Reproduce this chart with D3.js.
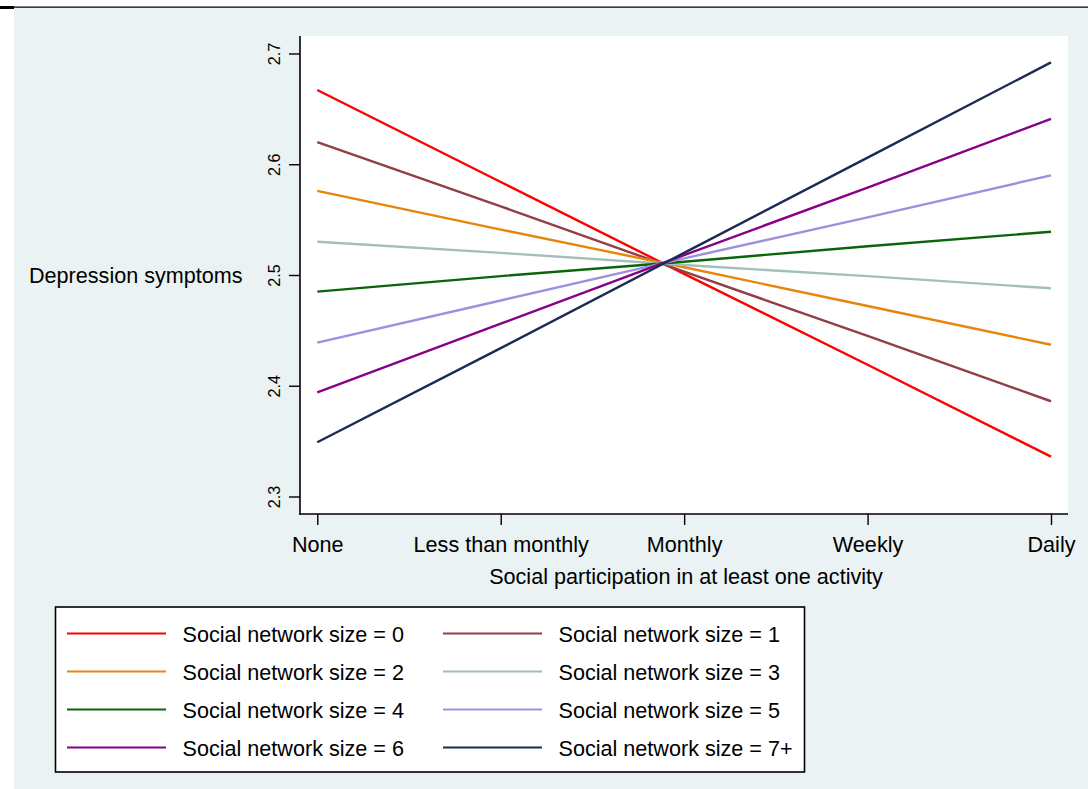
<!DOCTYPE html>
<html>
<head>
<meta charset="utf-8">
<script src="https://cdn.jsdelivr.net/npm/d3@7"></script>
<style>
  html, body { margin: 0; padding: 0; background: #ffffff; }
  svg { display: block; font-family: "Liberation Sans", Arial, sans-serif; }
</style>
</head>
<body>
<svg id="chart" width="1088" height="789"></svg>
<script>
// Predicted depression symptoms by frequency of social participation,
// one line per social network size.
const categories = ["None", "Less than monthly", "Monthly", "Weekly", "Daily"];
const seriesNames = [
  "Social network size = 0", "Social network size = 1",
  "Social network size = 2", "Social network size = 3",
  "Social network size = 4", "Social network size = 5",
  "Social network size = 6", "Social network size = 7+"
];
const size0  = [2.667, 2.584, 2.501, 2.419, 2.336];
const size1  = [2.620, 2.562, 2.503, 2.445, 2.386];
const size2  = [2.576, 2.541, 2.507, 2.472, 2.437];
const size3  = [2.530, 2.520, 2.509, 2.499, 2.488];
const size4  = [2.485, 2.499, 2.512, 2.526, 2.539];
const size5  = [2.439, 2.477, 2.515, 2.552, 2.590];
const size6  = [2.394, 2.456, 2.518, 2.579, 2.641];
const size7p = [2.349, 2.434, 2.520, 2.606, 2.692];
const seriesValues = [size0, size1, size2, size3, size4, size5, size6, size7p];
const seriesColors = ["#ff0000", "#933d45", "#e8850c", "#a3bfb8",
                      "#0a640a", "#9b91dc", "#880088", "#1c2a55"];
const yTicks = [2.3, 2.4, 2.5, 2.6, 2.7];
const yTitle = "Depression symptoms";
const xTitle = "Social participation in at least one activity";

const svg = d3.select("#chart");
const W = 1088, H = 789;
const FS = 21.6;

// outer frame: rule across the top and the tinted graph region
svg.append("rect").attr("x", 0).attr("y", 0).attr("width", W).attr("height", H).attr("fill", "#ffffff");
svg.append("rect").attr("x", 14).attr("y", 8).attr("width", W - 14).attr("height", H - 8).attr("fill", "#eaf2f3");
svg.append("line").attr("x1", 0).attr("x2", W).attr("y1", 7.2).attr("y2", 7.2)
  .attr("stroke", "#000").attr("stroke-width", 1.2);
svg.append("rect").attr("x", 0).attr("y", 6).attr("width", 14).attr("height", 3).attr("fill", "#000");

// plot region
const plot = { left: 300, right: 1068, top: 36, bottom: 514 };
svg.append("rect")
  .attr("x", plot.left).attr("y", plot.top)
  .attr("width", plot.right - plot.left).attr("height", plot.bottom - plot.top)
  .attr("fill", "#ffffff");

const x = d3.scalePoint().domain(categories).range([317.3, 1051]);
const y = d3.scaleLinear().domain([2.3, 2.7]).range([496.5, 53.5]);

// series lines
const line = d3.line().x((d, i) => x(categories[i])).y(d => y(d));
svg.append("g").selectAll("path")
  .data(seriesValues)
  .join("path")
  .attr("d", d => line(d))
  .attr("fill", "none")
  .attr("stroke", (d, i) => seriesColors[i])
  .attr("stroke-width", 2.4)
  .attr("stroke-linecap", "butt");

// y axis
const yAxis = d3.axisLeft(y).tickValues(yTicks).tickFormat(d3.format(".1f")).tickSize(11).tickPadding(8);
const gy = svg.append("g").attr("transform", `translate(${plot.left},0)`).call(yAxis);
gy.select(".domain").remove();
gy.append("line").attr("x1", 0).attr("x2", 0).attr("y1", plot.top).attr("y2", plot.bottom + 0.8)
  .attr("stroke", "#000").attr("stroke-width", 1.6);
gy.selectAll(".tick line").attr("stroke", "#000").attr("stroke-width", 1.4);
gy.selectAll(".tick text")
  .attr("font-size", 16.2).attr("fill", "#000")
  .attr("x", 0).attr("dy", 0)
  .attr("text-anchor", "middle")
  .attr("transform", "translate(-20.5,0) rotate(-90)");

// x axis
const xAxis = d3.axisBottom(x).tickSize(11).tickPadding(0);
const gx = svg.append("g").attr("transform", `translate(0,${plot.bottom})`).call(xAxis);
gx.select(".domain").remove();
gx.append("line").attr("x1", plot.left - 0.8).attr("x2", plot.right).attr("y1", 0).attr("y2", 0)
  .attr("stroke", "#000").attr("stroke-width", 1.6);
gx.selectAll(".tick line").attr("stroke", "#000").attr("stroke-width", 1.4);
gx.selectAll(".tick text")
  .attr("font-size", FS).attr("fill", "#000")
  .attr("y", 38).attr("dy", 0);

// axis titles
svg.append("text").attr("x", 29).attr("y", 283)
  .attr("font-size", FS).attr("fill", "#000").text(yTitle);
svg.append("text").attr("x", (plot.left + plot.right) / 2 + 2).attr("y", 583.5)
  .attr("text-anchor", "middle").attr("font-size", FS).attr("fill", "#000").text(xTitle);

// legend
const legend = svg.append("g");
legend.append("rect").attr("x", 55.5).attr("y", 607).attr("width", 749).attr("height", 165)
  .attr("fill", "#ffffff").attr("stroke", "#000").attr("stroke-width", 1.6);
const colX = [67, 443];
const rowY = [633.5, 671.5, 709.5, 747.5];
const items = legend.selectAll("g.item")
  .data(seriesNames)
  .join("g").attr("class", "item")
  .attr("transform", (d, i) => `translate(${colX[i % 2]},${rowY[Math.floor(i / 2)]})`);
items.append("line").attr("x1", 0).attr("x2", 99).attr("y1", 0).attr("y2", 0)
  .attr("stroke", (d, i) => seriesColors[i]).attr("stroke-width", 2.2);
items.append("text").attr("x", 115.5).attr("y", 8.5)
  .attr("font-size", FS).attr("fill", "#000").text(d => d);
</script>
</body>
</html>
